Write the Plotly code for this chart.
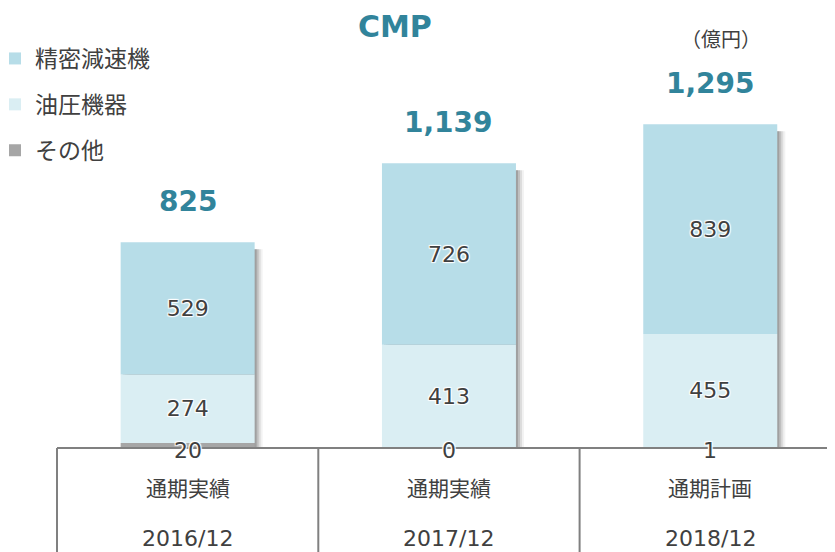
import plotly.graph_objects as go

# The page body adds an 8px margin, so the figure is 8px smaller than the window
W, H = 827, 544

periods = ["通期実績", "通期実績", "通期計画"]
years = ["2016/12", "2017/12", "2018/12"]
other = [20, 0, 1]
hydraulic = [274, 413, 455]
precision = [529, 726, 839]
totals = [825, 1139, 1295]

series_names = ["その他", "油圧機器", "精密減速機"]
colors = ["#A6A6A6", "#DAEEF3", "#B7DDE8"]
legend_rank = [3, 2, 1]

TXT = "#404040"
TEAL = "#31849B"
FONT = "DejaVu Sans, Noto Sans CJK JP, sans-serif"
JFONT = "Noto Sans CJK JP, DejaVu Sans, sans-serif"
HALO = "1px 1px 1px #fff, -1px -1px 1px #fff, 1px -1px 1px #fff, -1px 1px 1px #fff"

x = [0, 1, 2]
px_per_unit_x = 261.3
px_per_unit_y = 0.25
base_px = 440   # pixel row of the zero line inside the figure
left_px = 49    # pixel column of the left table border
bar_w = 134 / px_per_unit_x

y_lo = -(H - base_px) / px_per_unit_y
y_hi = base_px / px_per_unit_y
x_lo = -0.5 - left_px / px_per_unit_x
x_hi = -0.5 + (W - left_px) / px_per_unit_x

stack_sum = [a + b + c for a, b, c in zip(other, hydraulic, precision)]

fig = go.Figure()

# soft drop shadow (decorative) derived from bar totals
for dx, op in [(8, 0.08), (6, 0.14), (4, 0.22), (2, 0.30)]:
    fig.add_bar(
        x=x, y=[s - 28 for s in stack_sum], base=[0, 0, 0],
        width=bar_w, offset=-bar_w / 2 + dx / px_per_unit_x,
        marker=dict(color=f"rgba(90,90,90,{op})", line=dict(width=0)),
        showlegend=False, hoverinfo="skip",
    )

bases = [[0, 0, 0], other, [o + h for o, h in zip(other, hydraulic)]]
vals = [other, hydraulic, precision]
for i in range(3):
    fig.add_bar(
        x=x, y=vals[i], base=bases[i], width=bar_w, offset=-bar_w / 2,
        name=series_names[i], legendgroup=series_names[i], legendrank=legend_rank[i],
        marker=dict(color=colors[i], line=dict(width=0)),
        text=None if i == 0 else [str(v) for v in vals[i]],
        textposition="inside", insidetextanchor="middle",
        textfont=dict(family=FONT, size=22, color=TXT, shadow=HALO),
        textangle=0,
    )

annotations = []
# その他 labels at the zero line
for xi, v in zip(x, other):
    annotations.append(dict(x=xi, y=0, xref="x", yref="y", text=str(v), showarrow=False,
                            xanchor="center", yanchor="middle", yshift=-2,
                            font=dict(family=FONT, size=22, color=TXT, shadow=HALO)))
# totals
for xi, s, t in zip(x, stack_sum, totals):
    annotations.append(dict(x=xi, y=s, xref="x", yref="y", text=f"{t:,}", showarrow=False,
                            xanchor="center", yanchor="middle", yshift=41,
                            font=dict(family=FONT, size=28, color=TEAL, weight="bold")))
# table texts
for xi, p, yv in zip(x, periods, years):
    annotations.append(dict(x=xi, y=1 - 479 / H, xref="x", yref="paper", text=p, showarrow=False,
                            xanchor="center", yanchor="middle",
                            font=dict(family=JFONT, size=21, color=TXT)))
    annotations.append(dict(x=xi, y=1 - 530 / H, xref="x", yref="paper", text=yv, showarrow=False,
                            xanchor="center", yanchor="middle",
                            font=dict(family=FONT, size=22, color=TXT)))
# title and unit
annotations.append(dict(x=387 / W, y=1 - 19 / H, xref="paper", yref="paper", text="CMP",
                        showarrow=False, xanchor="center", yanchor="middle",
                        font=dict(family=FONT, size=30, color=TEAL, weight="bold")))
annotations.append(dict(x=713 / W, y=1 - 30 / H, xref="paper", yref="paper", text="（億円）",
                        showarrow=False, xanchor="center", yanchor="middle",
                        font=dict(family=JFONT, size=20, color=TXT)))

shapes = []
line = dict(color="#808080", width=2)
shapes.append(dict(type="line", xref="x", yref="y", x0=-0.5, x1=x_hi + 0.1, y0=0, y1=0, line=line))
for xb in [-0.5, 0.5, 1.5]:
    shapes.append(dict(type="line", xref="x", yref="y", x0=xb, x1=xb, y0=0, y1=y_lo - 10, line=line))

fig.update_layout(
    width=W, height=H,
    margin=dict(l=0, r=0, t=0, b=0, autoexpand=False),
    paper_bgcolor="white", plot_bgcolor="white",
    barmode="overlay",
    xaxis=dict(range=[x_lo, x_hi], visible=False, fixedrange=True),
    yaxis=dict(range=[y_lo, y_hi], visible=False, fixedrange=True),
    showlegend=True,
    legend=dict(x=-13 / W, y=1 - 29 / H, xanchor="left", yanchor="top",
                traceorder="grouped", tracegroupgap=13,
                font=dict(family=JFONT, size=23, color=TXT),
                itemwidth=30, bgcolor="rgba(0,0,0,0)"),
    annotations=annotations,
    shapes=shapes,
)

fig.write_html("out.html")
